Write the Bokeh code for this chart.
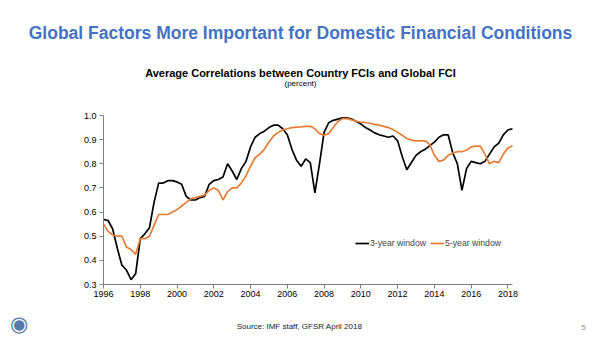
from bokeh.plotting import figure
from bokeh.models import (Label, Legend, LegendItem, FixedTicker, Range1d,
                          CustomJSTickFormatter)
from bokeh.embed import file_html
from bokeh.resources import INLINE

# Quarterly observations, 1996Q1 .. 2018Q2
start_year = 1996.0
three_year = [0.57, 0.565, 0.53, 0.45, 0.38, 0.36, 0.32, 0.345, 0.49, 0.51,
              0.535, 0.64, 0.72, 0.72, 0.73, 0.73, 0.725, 0.715, 0.665, 0.65,
              0.65, 0.66, 0.665, 0.715, 0.73, 0.735, 0.745, 0.80, 0.77, 0.735,
              0.78, 0.81, 0.87, 0.91, 0.925, 0.935, 0.95, 0.96, 0.96, 0.945,
              0.92, 0.86, 0.815, 0.79, 0.82, 0.805, 0.68, 0.80, 0.93, 0.97,
              0.98, 0.985, 0.99, 0.99, 0.985, 0.975, 0.965, 0.95, 0.94, 0.928,
              0.92, 0.915, 0.91, 0.915, 0.895, 0.83, 0.775, 0.805, 0.835, 0.85,
              0.86, 0.875, 0.89, 0.91, 0.92, 0.92, 0.845, 0.80, 0.69, 0.78,
              0.81, 0.805, 0.80, 0.81, 0.84, 0.87, 0.885, 0.92, 0.94, 0.945]
five_year = [0.55, 0.52, 0.505, 0.50, 0.50, 0.455, 0.445, 0.425, 0.49, 0.49,
             0.50, 0.545, 0.59, 0.59, 0.59, 0.60, 0.61, 0.625, 0.64, 0.655,
             0.66, 0.665, 0.67, 0.69, 0.70, 0.69, 0.65, 0.685, 0.70, 0.70,
             0.72, 0.75, 0.79, 0.825, 0.84, 0.86, 0.89, 0.915, 0.93, 0.94,
             0.945, 0.95, 0.952, 0.953, 0.955, 0.955, 0.945, 0.925, 0.918, 0.925,
             0.95, 0.975, 0.987, 0.987, 0.982, 0.976, 0.973, 0.971, 0.968, 0.963,
             0.96, 0.955, 0.95, 0.942, 0.93, 0.918, 0.905, 0.898, 0.895, 0.895,
             0.895, 0.88, 0.835, 0.81, 0.815, 0.835, 0.845, 0.85, 0.85, 0.857,
             0.87, 0.873, 0.873, 0.84, 0.80, 0.81, 0.805, 0.84, 0.865, 0.875]
x_ticks = [1996, 1998, 2000, 2002, 2004, 2006, 2008, 2010, 2012, 2014, 2016, 2018]
y_ticks = [0.3, 0.4, 0.5, 0.6, 0.7, 0.8, 0.9, 1.0]

title_text = "Global Factors More Important for Domestic Financial Conditions"
subtitle_text = "Average Correlations between Country FCIs and Global FCI"
unit_text = "(percent)"
source_text = "Source: IMF staff, GFSR April 2018"
page_text = "5"
legend_labels = ["3-year window", "5-year window"]

quarters = [start_year + i / 4 for i in range(len(three_year))]

FONT = "Liberation Sans"
W, H = 600, 337
# plot-area pixel box on the canvas
PX_L, PX_R, PX_T, PX_B = 103, 512, 115, 284
X0, X1 = 1996.0, 2018.25
Y0, Y1 = 0.3, 1.0
kx = (PX_R - PX_L) / (X1 - X0)
ky = (PX_B - PX_T) / (Y1 - Y0)
x_range = Range1d(X0 - PX_L / kx, X1 + (W - PX_R) / kx)
y_range = Range1d(Y0 - (H - PX_B) / ky, Y1 + PX_T / ky)

p = figure(width=W, height=H, output_backend="svg", toolbar_location=None,
           x_range=x_range, y_range=y_range, min_border=0)
p.outline_line_color = None
p.grid.visible = False
p.background_fill_color = "white"
p.border_fill_color = "white"

p.xaxis.fixed_location = Y0
p.yaxis.fixed_location = X0
p.xaxis.bounds = (X0, X1)
p.yaxis.bounds = (Y0, Y1)

for ax in (p.xaxis[0], p.yaxis[0]):
    ax.axis_line_color = "#7f7f7f"
    ax.major_tick_line_color = "#7f7f7f"
    ax.minor_tick_line_color = None
    ax.major_label_text_font = FONT
    ax.major_label_text_font_size = "9px"
    ax.major_label_text_color = "#000000"
    ax.major_tick_in = 0
    ax.major_tick_out = 4

p.xaxis.ticker = FixedTicker(ticks=x_ticks)
p.yaxis.ticker = FixedTicker(ticks=y_ticks)
p.yaxis.formatter = CustomJSTickFormatter(code="return tick.toFixed(1);")
p.xaxis.major_label_standoff = 2
p.yaxis.major_label_standoff = 3

r1 = p.line(quarters, three_year, line_color="#000000", line_width=1.7)
r2 = p.line(quarters, five_year, line_color="#E57E36", line_width=1.7)

legend = Legend(items=[LegendItem(label=legend_labels[0], renderers=[r1]),
                       LegendItem(label=legend_labels[1], renderers=[r2])],
                orientation="horizontal", location=(355, H - 248),
                border_line_color=None, background_fill_alpha=0,
                label_text_font=FONT, label_text_font_size="8.7px",
                glyph_width=14, glyph_height=10, label_standoff=1,
                spacing=4, padding=0, margin=0, label_height=10)
p.add_layout(legend, "center")


def canvas_label(text, cx, cy, size, color="#000000", bold=False, align="center"):
    lab = Label(x=cx, y=H - cy, x_units="screen", y_units="screen",
                text=text, text_font=FONT, text_font_size=size, text_color=color,
                text_font_style="bold" if bold else "normal",
                text_align=align, text_baseline="middle")
    p.add_layout(lab)


canvas_label(title_text, 300, 32, "17.5px", color="#4472C4", bold=True)
canvas_label(subtitle_text, 300, 72, "11px", bold=True)
canvas_label(unit_text, 300, 83, "8px")
canvas_label(source_text, 299, 326, "8px", color="#222222")
canvas_label(page_text, 583, 327, "8px", color="#8c8c8c")
canvas_label("\u25C9", 18, 323, "21px", color="#5878b0")

open("out.html", "w").write(file_html(p, INLINE))
